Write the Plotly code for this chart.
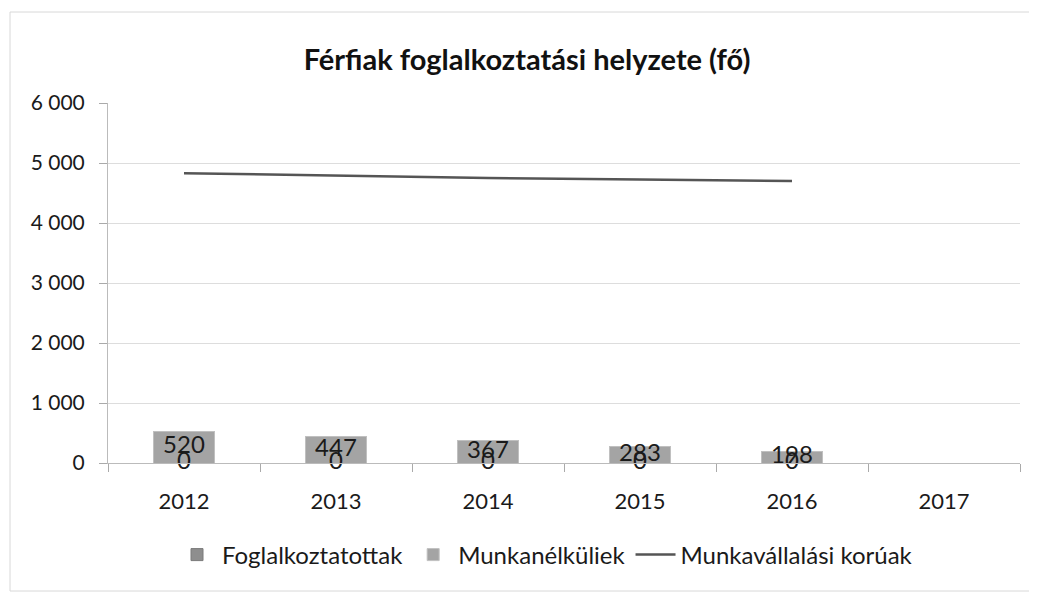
import plotly.graph_objects as go

years = ["2012", "2013", "2014", "2015", "2016", "2017"]
foglalkoztatottak = [0, 0, 0, 0, 0, None]
munkanelkuliek = [520, 447, 367, 283, 198, None]
munkavallalasi = [4830, 4790, 4750, 4725, 4700, None]

FONT = "Lato"
fig = go.Figure()

fig.add_trace(go.Bar(
    x=years, y=foglalkoztatottak, name="Foglalkoztatottak",
    marker=dict(color="#8e8e8e", line=dict(color="#7a7a7a", width=1)),
))
fig.add_trace(go.Bar(
    x=years, y=munkanelkuliek, name="Munkanélküliek",
    marker=dict(color="#a4a4a4", line=dict(color="#c0c0c0", width=1)),
))
fig.add_trace(go.Scatter(
    x=years, y=munkavallalasi, name="Munkavállalási korúak",
    mode="lines", line=dict(color="#555555", width=2.5),
))

# data labels (centered within stacked segments)
fx, fy, ft = [], [], []
mx, my, mt = [], [], []
for yr, f, m in zip(years, foglalkoztatottak, munkanelkuliek):
    if f is not None:
        fx.append(yr); fy.append(f / 2); ft.append(str(f))
    if m is not None:
        base = f or 0
        mx.append(yr); my.append(base + m / 2); mt.append(str(m))

fig.add_trace(go.Scatter(
    x=mx, y=my, text=mt, mode="text", showlegend=False, hoverinfo="skip",
    cliponaxis=False,
    textfont=dict(family=FONT, size=24, color="#1a1a1a"),
))
fig.add_trace(go.Scatter(
    x=fx, y=fy, text=ft, mode="text", showlegend=False, hoverinfo="skip",
    textposition="middle center", cliponaxis=False,
    textfont=dict(family=FONT, size=24, color="#1a1a1a"),
))

W, H = 1029, 586
L, R, T, B = 100, 17, 95, 131
pw, ph = W - L - R, H - T - B

fig.update_layout(
    width=W, height=H,
    barmode="stack", bargap=0.6,
    separators=", ",
    paper_bgcolor="white", plot_bgcolor="white",
    margin=dict(l=L, r=R, t=T, b=B),
    title=dict(text="<b>Férfiak foglalkoztatási helyzete (fő)</b>",
               x=(527 - 8) / W, xanchor="center",
               y=1 - 52 / H, yanchor="middle",
               font=dict(family=FONT, size=29, color="#111111")),
    font=dict(family=FONT, color="#222222"),
    legend=dict(orientation="h", x=(545 - 8 - L) / pw, xanchor="center",
                y=-(547 - (H - B)) / ph, yanchor="middle",
                font=dict(family=FONT, size=24, color="#1a1a1a"),
                traceorder="normal", itemwidth=40),
    xaxis=dict(type="category", tickson="boundaries", ticks="outside",
               ticklen=8, tickcolor="#aaaaaa", ticklabelstandoff=19,
               showline=True, linecolor="#bbbbbb", showgrid=False,
               tickfont=dict(family=FONT, size=22, color="#1a1a1a")),
    yaxis=dict(range=[0, 6000], dtick=1000, tickformat=",d",
               showgrid=True, gridcolor="#dddddd", gridwidth=1,
               showline=True, linecolor="#bbbbbb", ticks="outside",
               ticklen=8, tickcolor="#aaaaaa", zeroline=False,
               ticklabelstandoff=10,
               tickfont=dict(family=FONT, size=21, color="#1a1a1a")),
    shapes=[dict(type="rect", xref="paper", yref="paper",
                 x0=-(L - 2) / pw, x1=1 + (R - 3) / pw,
                 y0=-(B - 3) / ph, y1=1 + (T - 4) / ph,
                 line=dict(color="#d8d8d8", width=1))],
)

fig.write_html("out.html")
